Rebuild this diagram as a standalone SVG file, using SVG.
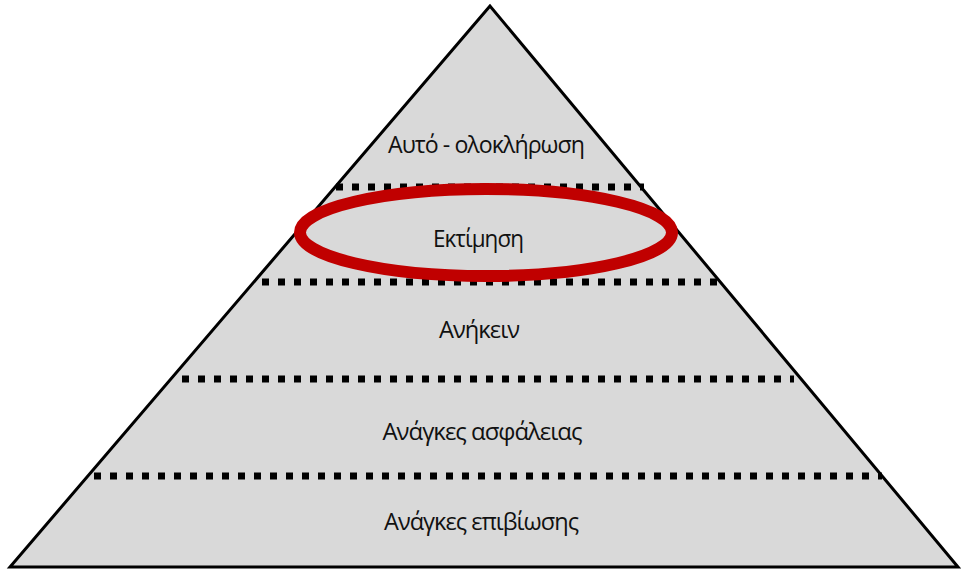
<svg xmlns="http://www.w3.org/2000/svg" width="961" height="569" viewBox="0 0 961 569">
<style>
.lbl{font-family:"Open Sans","Liberation Sans",sans-serif;font-size:24px;fill:#111;text-anchor:middle;letter-spacing:-1px}
.dot{stroke:#000;stroke-width:7;stroke-dasharray:7 9;fill:none}
</style>
<rect width="961" height="569" fill="#fff"/>
<g id="pyramid">
<polygon points="490,6 10,567 958,567" fill="#d9d9d9" stroke="#000" stroke-width="3" stroke-linejoin="miter"/>
</g>
<g id="dividers">
<line class="dot" x1="336" y1="187" x2="644" y2="187"/>
<line class="dot" x1="262" y1="282" x2="722" y2="282"/>
<line class="dot" x1="182" y1="379" x2="794" y2="379"/>
<line class="dot" x1="94" y1="476" x2="882" y2="476"/>
</g>
<g id="level5"><text class="lbl" x="486" y="153" textLength="196" lengthAdjust="spacingAndGlyphs">Αυτό - ολοκλήρωση</text></g>
<g id="level4"><text class="lbl" x="478" y="247" textLength="90" lengthAdjust="spacingAndGlyphs">Εκτίμηση</text></g>
<g id="level3"><text class="lbl" x="479" y="338" textLength="80" lengthAdjust="spacingAndGlyphs">Ανήκειν</text></g>
<g id="level2"><text class="lbl" x="482" y="440" textLength="199" lengthAdjust="spacingAndGlyphs">Ανάγκες ασφάλειας</text></g>
<g id="level1"><text class="lbl" x="481" y="530" textLength="194" lengthAdjust="spacingAndGlyphs">Ανάγκες επιβίωσης</text></g>
<g id="highlight">
<ellipse cx="486" cy="232.5" rx="186" ry="43.5" fill="none" stroke="#c00000" stroke-width="12"/>
</g>
</svg>
